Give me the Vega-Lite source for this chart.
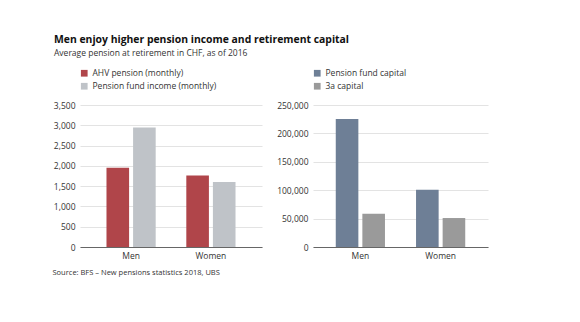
{
  "$schema": "https://vega.github.io/schema/vega-lite/v6.json",
  "background": "white",
  "padding": {"left": 52, "top": 35, "right": 18, "bottom": 20},
  "title": {
    "text": "Men enjoy higher pension income and retirement capital",
    "subtitle": "Average pension at retirement in CHF, as of 2016",
    "anchor": "start",
    "font": "Open Sans",
    "fontSize": 10.4,
    "fontWeight": "bold",
    "color": "#111111",
    "subtitleFont": "Open Sans",
    "subtitleFontSize": 8.5,
    "subtitleColor": "#333333",
    "subtitlePadding": 3,
    "offset": 12,
    "dx": 2
  },
  "spacing": 14,
  "resolve": {"scale": {"color": "independent"}},
  "config": {
    "view": {"stroke": null},
    "font": "Open Sans",
    "axis": {
      "labelFont": "Open Sans",
      "labelFontSize": 8.5,
      "labelColor": "#333333",
      "ticks": false,
      "gridColor": "#dcdcdc",
      "gridWidth": 0.8
    },
    "axisY": {"domain": false, "labelPadding": 5},
    "axisX": {"domainColor": "#666666", "domainWidth": 1, "grid": false, "labelPadding": 4, "labelAngle": 0},
    "legend": {
      "labelFont": "Open Sans",
      "labelFontSize": 8.5,
      "labelColor": "#333333",
      "symbolType": "square",
      "symbolSize": 45,
      "symbolStrokeWidth": 0,
      "rowPadding": 4,
      "orient": "top",
      "direction": "vertical",
      "offset": 14,
      "title": null
    }
  },
  "hconcat": [
    {
      "width": 182,
      "height": 142,
      "data": {"values": [
        {"gender": "Men", "series": "AHV pension (monthly)", "value": 1955},
        {"gender": "Men", "series": "Pension fund income (monthly)", "value": 2945},
        {"gender": "Women", "series": "AHV pension (monthly)", "value": 1765},
        {"gender": "Women", "series": "Pension fund income (monthly)", "value": 1600}
      ]},
      "encoding": {
        "x": {
          "field": "gender", "type": "nominal", "sort": ["Men", "Women"],
          "scale": {"paddingInner": 0, "paddingOuter": 0.14},
          "axis": {
            "title": "Source: BFS – New pensions statistics 2018, UBS",
            "titleFont": "Open Sans", "titleFontSize": 7.5, "titleFontWeight": "normal",
            "titleColor": "#333333", "titleAnchor": "start", "titleAlign": "left",
            "titleX": -28, "titlePadding": 9
          }
        },
        "y": {
          "field": "value", "type": "quantitative",
          "scale": {"domain": [0, 3500]},
          "axis": {"title": null, "values": [0, 500, 1000, 1500, 2000, 2500, 3000, 3500], "format": ",.0f"}
        },
        "color": {
          "field": "series", "type": "nominal",
          "scale": {"domain": ["AHV pension (monthly)", "Pension fund income (monthly)"], "range": ["#b0454a", "#bfc3c8"]}
        }
      },
      "layer": [
        {
          "transform": [{"filter": "datum.series === 'AHV pension (monthly)'"}],
          "mark": {"type": "bar", "width": 22.6, "xOffset": -13.3}
        },
        {
          "transform": [{"filter": "datum.series === 'Pension fund income (monthly)'"}],
          "mark": {"type": "bar", "width": 22.6, "xOffset": 13.3}
        }
      ]
    },
    {
      "width": 175,
      "height": 142,
      "data": {"values": [
        {"gender": "Men", "series": "Pension fund capital", "value": 225500},
        {"gender": "Men", "series": "3a capital", "value": 58500},
        {"gender": "Women", "series": "Pension fund capital", "value": 100800},
        {"gender": "Women", "series": "3a capital", "value": 51000}
      ]},
      "encoding": {
        "x": {
          "field": "gender", "type": "nominal", "sort": ["Men", "Women"],
          "scale": {"paddingInner": 0, "paddingOuter": 0.09},
          "axis": {"title": null}
        },
        "y": {
          "field": "value", "type": "quantitative",
          "scale": {"domain": [0, 250000]},
          "axis": {"title": null, "values": [0, 50000, 100000, 150000, 200000, 250000], "format": ",.0f"}
        },
        "color": {
          "field": "series", "type": "nominal",
          "scale": {"domain": ["Pension fund capital", "3a capital"], "range": ["#6e7f96", "#9a9a9a"]}
        }
      },
      "layer": [
        {
          "transform": [{"filter": "datum.series === 'Pension fund capital'"}],
          "mark": {"type": "bar", "width": 22.6, "xOffset": -13.3}
        },
        {
          "transform": [{"filter": "datum.series === '3a capital'"}],
          "mark": {"type": "bar", "width": 22.6, "xOffset": 13.3}
        }
      ]
    }
  ]
}
